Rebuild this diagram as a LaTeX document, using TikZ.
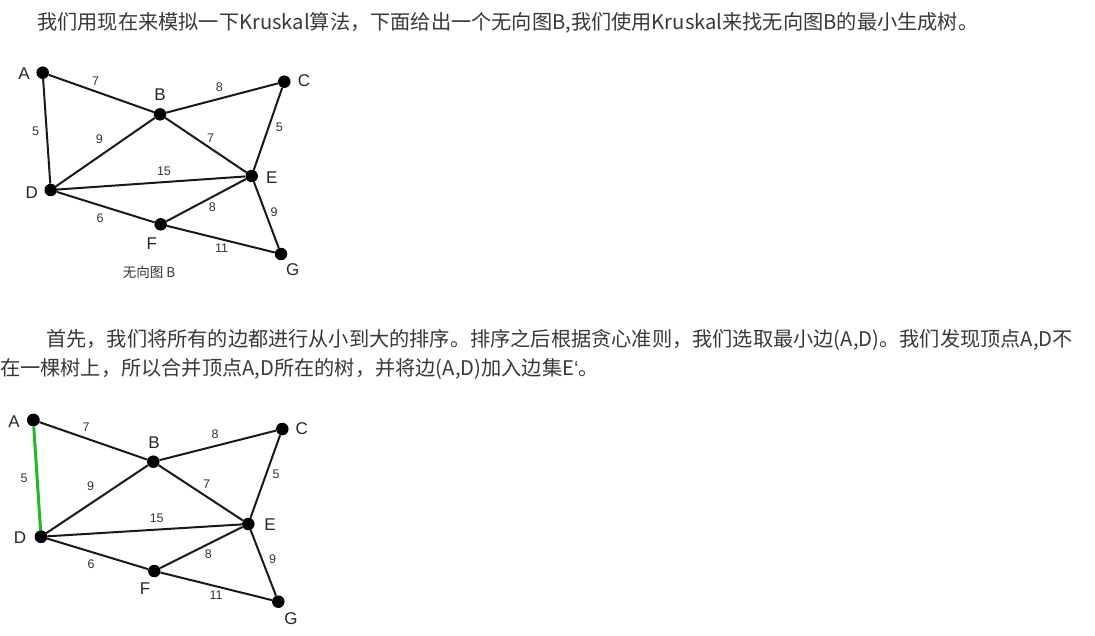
\documentclass[tikz,border=0pt]{standalone}
\usepackage{fontspec}
\setmainfont{Liberation Sans}
\newfontfamily\cjk{Noto Sans CJK SC}
\newfontfamily\lat{Liberation Sans}
\definecolor{textgray}{RGB}{56,56,56}
\definecolor{pickgreen}{RGB}{40,180,40}

\begin{document}
\begin{tikzpicture}[x=1pt, y=-1pt,
  vertex/.style = {circle, fill=black, inner sep=0pt, minimum size=12.5pt},
  edge/.style = {line width=2pt, black!90},
  picked/.style = {line width=3pt, pickgreen},
  vname/.style = {font=\fontsize{17}{17}\selectfont, text=black!85},
  weight/.style = {font=\fontsize{12.5}{12.5}\selectfont, text=black!80},
  para/.style = {anchor=base west, inner sep=0pt, text=textgray,
    font=\cjk\fontsize{20.2}{21}\selectfont}]
\useasboundingbox (0,0) rectangle (1095,635);

\node[para] (t1) at (37,29) {我们用现在来模拟一下Kruskal算法，下面给出一个无向图B,我们使用Kruskal来找无向图B的最小生成树。};

% undirected graph B
\node[vertex] (A1) at (42.7,72.7) {};
\node[vertex] (B1) at (160,114.3) {};
\node[vertex] (C1) at (284.3,81.7) {};
\node[vertex] (D1) at (50.7,190) {};
\node[vertex] (E1) at (251.7,176) {};
\node[vertex] (F1) at (160.7,224.3) {};
\node[vertex] (G1) at (281,254) {};

\node[vname] (nA1) at (24,74) {A};
\node[vname] (nB1) at (160,95) {B};
\node[vname] (nC1) at (304,80.7) {C};
\node[vname] (nD1) at (31.7,192.7) {D};
\node[vname] (nE1) at (271.7,177.7) {E};
\node[vname] (nF1) at (151.7,243.3) {F};
\node[vname] (nG1) at (292.7,270) {G};

\draw[edge] (A1) -- (B1);
\draw[edge] (A1) -- (D1);
\draw[edge] (B1) -- (C1);
\draw[edge] (B1) -- (D1);
\draw[edge] (B1) -- (E1);
\draw[edge] (C1) -- (E1);
\draw[edge] (D1) -- (E1);
\draw[edge] (D1) -- (F1);
\draw[edge] (E1) -- (F1);
\draw[edge] (E1) -- (G1);
\draw[edge] (F1) -- (G1);

\node[weight] (wAB1) at (95.7,80.7) {7};
\node[weight] (wBC1) at (219.3,87.3) {8};
\node[weight] (wAD1) at (35.7,131) {5};
\node[weight] (wBD1) at (99.3,139.3) {9};
\node[weight] (wBE1) at (210.7,138.3) {7};
\node[weight] (wCE1) at (279.3,127.3) {5};
\node[weight] (wDE1) at (164,171.7) {15};
\node[weight] (wEF1) at (212.3,206.7) {8};
\node[weight] (wEG1) at (274,212.3) {9};
\node[weight] (wDF1) at (100,218.3) {6};
\node[weight] (wFG1) at (221.7,248.3) {11};

\node[font=\cjk\fontsize{13.5}{14}\selectfont, text=black!80] (cap1) at (149,272.7) {无向图 B};

\node[para] (t2) at (46,346) {首先，我们将所有的边都进行从小到大的排序。排序之后根据贪心准则，我们选取最小边(A,D)。我们发现顶点A,D不};
\node[para] (t3) at (0,375) {在一棵树上，所以合并顶点A,D所在的树，并将边(A,D)加入边集E{\lat ‘}。};

% after choosing (A,D)
\node[vertex] (A2) at (33.3,420) {};
\node[vertex] (B2) at (153.3,461.7) {};
\node[vertex] (C2) at (282.3,429) {};
\node[vertex] (D2) at (41,536.7) {};
\node[vertex] (E2) at (248.3,524) {};
\node[vertex] (F2) at (154.3,571) {};
\node[vertex] (G2) at (278.3,601.7) {};

\node[vname] (nA2) at (14,421.7) {A};
\node[vname] (nB2) at (154,442.7) {B};
\node[vname] (nC2) at (301.7,429) {C};
\node[vname] (nD2) at (20,537.7) {D};
\node[vname] (nE2) at (270,525) {E};
\node[vname] (nF2) at (145,588.3) {F};
\node[vname] (nG2) at (291,618.3) {G};

\draw[picked] (A2) -- (D2);
\draw[edge] (A2) -- (B2);
\draw[edge] (B2) -- (C2);
\draw[edge] (B2) -- (D2);
\draw[edge] (B2) -- (E2);
\draw[edge] (C2) -- (E2);
\draw[edge] (D2) -- (E2);
\draw[edge] (D2) -- (F2);
\draw[edge] (E2) -- (F2);
\draw[edge] (E2) -- (G2);
\draw[edge] (F2) -- (G2);

\node[weight] (wAB2) at (86,426.7) {7};
\node[weight] (wBC2) at (215,434) {8};
\node[weight] (wAD2) at (24,478.3) {5};
\node[weight] (wBD2) at (90.7,486) {9};
\node[weight] (wBE2) at (206.7,484) {7};
\node[weight] (wCE2) at (276,474) {5};
\node[weight] (wDE2) at (156.7,518.3) {15};
\node[weight] (wEF2) at (208.3,554.3) {8};
\node[weight] (wEG2) at (272.7,559.3) {9};
\node[weight] (wDF2) at (91,564) {6};
\node[weight] (wFG2) at (216,595) {11};

\node[vertex] at (A2) {};
\node[vertex] at (D2) {};
\end{tikzpicture}
\end{document}
